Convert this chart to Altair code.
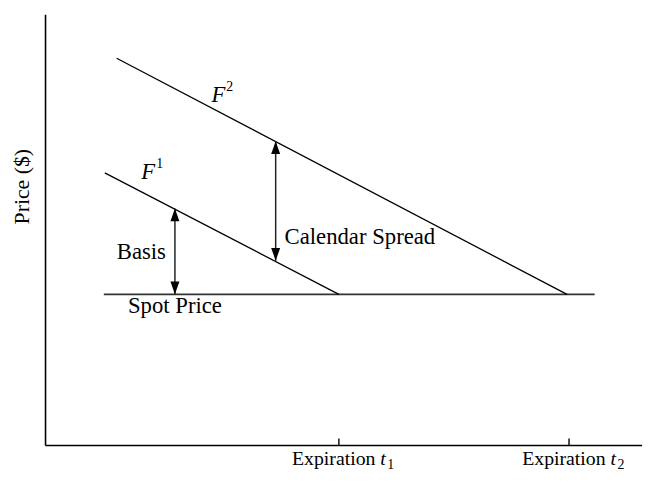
import altair as alt
import pandas as pd

# ---- data (plot coordinates: x = time, y = price) ----
X_MAX = 604
Y_MAX = 436

expirations = [297, 530]            # t1, t2
spot_level = 153

f2_x = [72, 528]
f2_y = [392, 153]
f1_x = [60, 297]
f1_y = [276, 153]
spot_x = [59, 556]
spot_y = [spot_level, spot_level]

arrow_names = ["Basis", "Calendar Spread"]
arrow_x = [131, 233]
arrow_lo = [153, 187]
arrow_hi = [240, 308]

f_names = ["F", "F"]
f_sup = ["2", "1"]
f_x = [175, 104]
f_y = [355, 277]

label_text = ["Basis", "Spot Price", "Calendar Spread"]
label_x = [97, 131, 242]
label_y = [196, 141, 211]

exp_word = ["Expiration", "Expiration"]
exp_sub = ["1", "2"]

FONT = "Liberation Serif"

xs = alt.Scale(domain=[0, X_MAX], nice=False, zero=False)
ys = alt.Scale(domain=[0, Y_MAX], nice=False, zero=False)

def X(f="x"):
    return alt.X(f"{f}:Q", scale=xs, axis=None)

def Y(f="y"):
    return alt.Y(f"{f}:Q", scale=ys, axis=None)

# axes as rules
axes_df = pd.DataFrame({"x": [0, 0], "x2": [0, X_MAX], "y": [0, 0], "y2": [Y_MAX, 0]})
axes = alt.Chart(axes_df).mark_rule(color="black", strokeWidth=1.6).encode(
    x=X(), x2="x2:Q", y=Y(), y2="y2:Q")

tick_df = pd.DataFrame({"x": expirations, "y": [0, 0], "y2": [7, 7]})
ticks = alt.Chart(tick_df).mark_rule(color="black", strokeWidth=1.4).encode(
    x=X(), y=Y(), y2="y2:Q")

lines_df = pd.DataFrame({
    "series": ["F2", "F2", "F1", "F1"],
    "x": f2_x + f1_x,
    "y": f2_y + f1_y,
})
flines = alt.Chart(lines_df).mark_line(color="black", strokeWidth=1.3).encode(
    x=X(), y=Y(), detail="series:N")

spot_df = pd.DataFrame({"x": spot_x, "y": spot_y})
spotline = alt.Chart(spot_df).mark_line(color="#333333", strokeWidth=1.6).encode(
    x=X(), y=Y())

arr_df = pd.DataFrame({"name": arrow_names, "x": arrow_x, "lo": arrow_lo, "hi": arrow_hi})
arr_rules = alt.Chart(arr_df).mark_rule(color="#222222", strokeWidth=1.5).encode(
    x=X(), y=Y("lo"), y2="hi:Q")
head_up = alt.Chart(arr_df).mark_point(
    shape="M0,0 L0.7,2 L-0.7,2 Z", filled=True, color="black", size=169, opacity=1
).encode(x=X(), y=Y("hi"))
head_dn = alt.Chart(arr_df).mark_point(
    shape="M0,0 L0.7,-2 L-0.7,-2 Z", filled=True, color="black", size=169, opacity=1
).encode(x=X(), y=Y("lo"))

lab_df = pd.DataFrame({"text": label_text, "x": label_x, "y": label_y})
lab_main = alt.Chart(lab_df[lab_df.text != "Calendar Spread"]).mark_text(
    font=FONT, fontSize=23, color="black", align="center", baseline="middle"
).encode(x=X(), y=Y(), text="text:N")
lab_cal = alt.Chart(lab_df[lab_df.text == "Calendar Spread"]).mark_text(
    font=FONT, fontSize=23, color="black", align="left", baseline="middle"
).encode(x=X(), y=Y(), text="text:N")

f_df = pd.DataFrame({"name": f_names, "sup": f_sup, "x": f_x, "y": f_y})
lab_f = alt.Chart(f_df).mark_text(
    font=FONT, fontSize=23, fontStyle="italic", color="black", align="center", baseline="middle"
).encode(x=X(), y=Y(), text="name:N")
lab_fsup = alt.Chart(f_df).mark_text(
    font=FONT, fontSize=14, color="black", align="left", baseline="middle", dx=8, dy=-8
).encode(x=X(), y=Y(), text="sup:N")

exp_df = pd.DataFrame({"x": expirations, "y": [0, 0], "word": exp_word, "sub": exp_sub,
                       "t": ["t", "t"]})
exp_word_m = alt.Chart(exp_df).mark_text(
    font=FONT, fontSize=20, color="black", align="right", baseline="middle", dx=37, dy=14
).encode(x=X(), y=Y(), text="word:N")
exp_t_m = alt.Chart(exp_df).mark_text(
    font=FONT, fontSize=20, fontStyle="italic", color="black", align="left", baseline="middle", dx=42, dy=14
).encode(x=X(), y=Y(), text="t:N")
exp_sub_m = alt.Chart(exp_df).mark_text(
    font=FONT, fontSize=14, color="black", align="left", baseline="middle", dx=49, dy=20
).encode(x=X(), y=Y(), text="sub:N")

ylab_df = pd.DataFrame({"text": ["Price ($)"], "x": [-24], "y": [262]})
ylab = alt.Chart(ylab_df).mark_text(
    font=FONT, fontSize=22, color="black", angle=270, align="center", baseline="middle"
).encode(x=X(), y=Y(), text="text:N")

chart = alt.layer(
    axes, ticks, spotline, flines, arr_rules, head_up, head_dn,
    lab_main, lab_cal, lab_f, lab_fsup, exp_word_m, exp_t_m, exp_sub_m, ylab
).properties(
    width=X_MAX, height=Y_MAX,
    padding={"left": 38, "top": 4, "right": 9, "bottom": 30},
    autosize=alt.AutoSizeParams(type="none"),
    background="white",
).configure_view(stroke=None)

chart.save("out.html", embed_options={"renderer": "svg", "actions": False})
